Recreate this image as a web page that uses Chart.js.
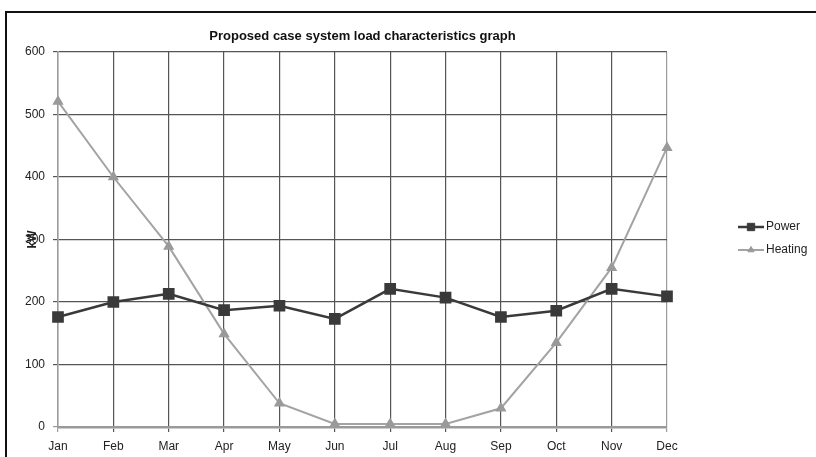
<!DOCTYPE html>
<html>
<head>
<meta charset="utf-8">
<script src="https://cdn.jsdelivr.net/npm/chart.js@4.4.1/dist/chart.umd.min.js"></script>
<style>
  body { margin: 0; background: #fff; }
  #wrap { position: relative; width: 816px; height: 457px; }
  #frame { position: absolute; left: 5px; top: 11px; right: 0; bottom: 0;
           border-top: 2px solid #111; border-left: 2px solid #111; }
  canvas { position: absolute; left: 0; top: 0; }
</style>
</head>
<body>
<div id="wrap">
  <div id="frame"></div>
  <canvas id="loadChart" width="816" height="457"></canvas>
</div>
<script>
const months = ['Jan', 'Feb', 'Mar', 'Apr', 'May', 'Jun', 'Jul', 'Aug', 'Sep', 'Oct', 'Nov', 'Dec'];
const powerKW = [176, 200, 213, 187, 194, 173, 221, 207, 176, 186, 221, 209];
const heatingKW = [521, 400, 289, 149, 38, 5, 5, 5, 30, 135, 255, 447];
const yTicks = [0, 100, 200, 300, 400, 500, 600];

Chart.defaults.font.family = '"Liberation Sans", Arial, sans-serif';
Chart.defaults.font.size = 12;
Chart.defaults.color = '#222';

// y axis title sits over the tick labels, like the original
const kwLabel = {
    id: 'kwLabel',
    afterDraw(chart) {
        const c = chart.ctx, a = chart.chartArea;
        c.save();
        c.translate(33, (a.top + a.bottom) / 2);
        c.rotate(-Math.PI / 2);
        c.font = 'bold 12px "Liberation Sans", Arial, sans-serif';
        c.fillStyle = '#222';
        c.textAlign = 'center';
        c.textBaseline = 'middle';
        c.fillText('kW', 0, 0);
        c.restore();
    }
};

// line + marker legend to the right
const sideLegend = {
    id: 'sideLegend',
    afterDraw(chart) {
        const c = chart.ctx;
        const x0 = 738;
        let y = 227;
        chart.data.datasets.forEach((ds) => {
            c.save();
            c.strokeStyle = ds.borderColor;
            c.lineWidth = ds.borderWidth;
            c.beginPath();
            c.moveTo(x0, y);
            c.lineTo(x0 + 26, y);
            c.stroke();
            c.fillStyle = ds.pointBackgroundColor;
            c.strokeStyle = ds.pointBorderColor;
            c.lineWidth = 1;
            Chart.helpers.drawPoint(c, {
                pointStyle: ds.pointStyle, radius: ds.pointRadius * 0.8,
                rotation: 0, borderWidth: 1
            }, x0 + 13, y);
            c.font = '12px "Liberation Sans", Arial, sans-serif';
            c.fillStyle = '#222';
            c.textBaseline = 'middle';
            c.fillText(ds.label, x0 + 28, y);
            c.restore();
            y += 23;
        });
    }
};

const ctx = document.getElementById('loadChart').getContext('2d');
const myChart = new Chart(ctx, {
    type: 'line',
    data: {
        labels: months,
        datasets: [{
            label: 'Power',
            data: powerKW,
            borderColor: '#3a3a3a',
            borderWidth: 2.5,
            pointStyle: 'rect',
            pointRadius: 6.5,
            pointBackgroundColor: '#3a3a3a',
            pointBorderColor: '#3a3a3a',
            tension: 0
        }, {
            label: 'Heating',
            data: heatingKW,
            borderColor: '#a3a3a3',
            borderWidth: 2,
            pointStyle: 'triangle',
            pointRadius: 4.5,
            pointBackgroundColor: '#9a9a9a',
            pointBorderColor: '#9a9a9a',
            tension: 0
        }]
    },
    options: {
        responsive: false,
        animation: false,
        layout: { padding: { left: 0, right: 149, top: 0, bottom: 0 } },
        plugins: {
            legend: { display: false },
            tooltip: { enabled: false },
            title: {
                display: true,
                fullSize: false,
                text: 'Proposed case system load characteristics graph',
                color: '#111',
                font: { size: 13, weight: 'bold', lineHeight: 1.2 },
                padding: { top: 29, bottom: 7.4 }
            }
        },
        scales: {
            x: {
                grid: {
                    color: (c) => (c.index === 0 || c.index === months.length - 1) ? '#9a9a9a' : '#555',
                    lineWidth: 1.2,
                    tickLength: 5
                },
                border: { color: '#9a9a9a', width: 2.5 },
                ticks: { padding: 7, color: '#222', maxRotation: 0 },
                afterFit: (s) => { s.height = 30; }
            },
            y: {
                min: 0,
                max: 600,
                afterBuildTicks: (s) => { s.ticks = yTicks.map((v) => ({ value: v })); },
                grid: {
                    color: (c) => c.tick && c.tick.value === 0 ? '#9a9a9a' : '#555',
                    lineWidth: 1.2,
                    tickLength: 5
                },
                border: { color: '#9a9a9a', width: 1.5 },
                ticks: { padding: 8, color: '#222' },
                afterFit: (s) => { s.width = 58; }
            }
        }
    },
    plugins: [kwLabel, sideLegend]
});
</script>
</body>
</html>
